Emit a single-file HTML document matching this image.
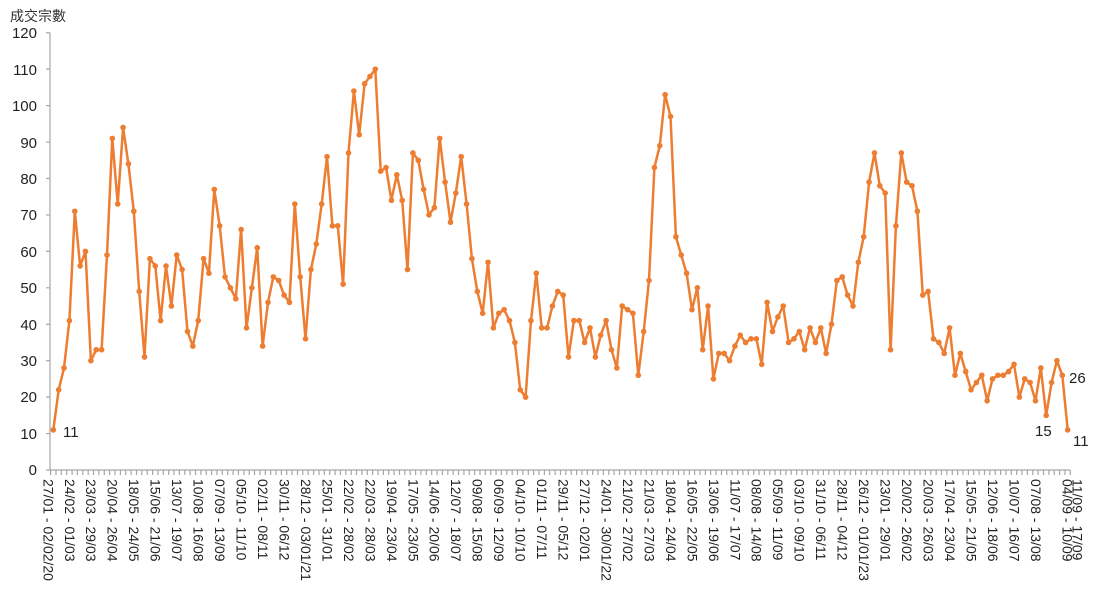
<!DOCTYPE html>
<html><head><meta charset="utf-8"><style>
html,body{margin:0;padding:0;background:#fff;}
svg{display:block;font-family:"Liberation Sans","Noto Sans CJK TC",sans-serif;}
.yl{font-size:15px;fill:#222;text-anchor:end;}
.xl{font-size:14px;fill:#222;}
.dl{font-size:15px;fill:#222;}
</style></head><body>
<svg id="c" width="1099" height="599" viewBox="0 0 1099 599">
<text x="10" y="21" style="font-size:14px;fill:#333">成交宗數</text>
<g id="axes" stroke="#a6a6a6" stroke-width="1.2" fill="none"></g>
<g id="yl">
<text class="yl" x="37" y="475">0</text>
<text class="yl" x="37" y="439">10</text>
<text class="yl" x="37" y="402">20</text>
<text class="yl" x="37" y="366">30</text>
<text class="yl" x="37" y="330">40</text>
<text class="yl" x="37" y="293">50</text>
<text class="yl" x="37" y="257">60</text>
<text class="yl" x="37" y="220">70</text>
<text class="yl" x="37" y="184">80</text>
<text class="yl" x="37" y="148">90</text>
<text class="yl" x="37" y="111">100</text>
<text class="yl" x="37" y="75">110</text>
<text class="yl" x="37" y="38">120</text>
</g>
<g id="xl">
<text class="xl" transform="translate(43.3,479) rotate(90)">27/01 - 02/02/20</text>
<text class="xl" transform="translate(64.8,479) rotate(90)">24/02 - 01/03</text>
<text class="xl" transform="translate(86.2,479) rotate(90)">23/03 - 29/03</text>
<text class="xl" transform="translate(107.7,479) rotate(90)">20/04 - 26/04</text>
<text class="xl" transform="translate(129.2,479) rotate(90)">18/05 - 24/05</text>
<text class="xl" transform="translate(150.6,479) rotate(90)">15/06 - 21/06</text>
<text class="xl" transform="translate(172.1,479) rotate(90)">13/07 - 19/07</text>
<text class="xl" transform="translate(193.6,479) rotate(90)">10/08 - 16/08</text>
<text class="xl" transform="translate(215.0,479) rotate(90)">07/09 - 13/09</text>
<text class="xl" transform="translate(236.5,479) rotate(90)">05/10 - 11/10</text>
<text class="xl" transform="translate(258.0,479) rotate(90)">02/11 - 08/11</text>
<text class="xl" transform="translate(279.4,479) rotate(90)">30/11 - 06/12</text>
<text class="xl" transform="translate(300.9,479) rotate(90)">28/12 - 03/01/21</text>
<text class="xl" transform="translate(322.4,479) rotate(90)">25/01 - 31/01</text>
<text class="xl" transform="translate(343.9,479) rotate(90)">22/02 - 28/02</text>
<text class="xl" transform="translate(365.3,479) rotate(90)">22/03 - 28/03</text>
<text class="xl" transform="translate(386.8,479) rotate(90)">19/04 - 23/04</text>
<text class="xl" transform="translate(408.3,479) rotate(90)">17/05 - 23/05</text>
<text class="xl" transform="translate(429.7,479) rotate(90)">14/06 - 20/06</text>
<text class="xl" transform="translate(451.2,479) rotate(90)">12/07 - 18/07</text>
<text class="xl" transform="translate(472.7,479) rotate(90)">09/08 - 15/08</text>
<text class="xl" transform="translate(494.1,479) rotate(90)">06/09 - 12/09</text>
<text class="xl" transform="translate(515.6,479) rotate(90)">04/10 - 10/10</text>
<text class="xl" transform="translate(537.1,479) rotate(90)">01/11 - 07/11</text>
<text class="xl" transform="translate(558.5,479) rotate(90)">29/11 - 05/12</text>
<text class="xl" transform="translate(580.0,479) rotate(90)">27/12 - 02/01</text>
<text class="xl" transform="translate(601.5,479) rotate(90)">24/01 - 30/01/22</text>
<text class="xl" transform="translate(622.9,479) rotate(90)">21/02 - 27/02</text>
<text class="xl" transform="translate(644.4,479) rotate(90)">21/03 - 27/03</text>
<text class="xl" transform="translate(665.9,479) rotate(90)">18/04 - 24/04</text>
<text class="xl" transform="translate(687.3,479) rotate(90)">16/05 - 22/05</text>
<text class="xl" transform="translate(708.8,479) rotate(90)">13/06 - 19/06</text>
<text class="xl" transform="translate(730.3,479) rotate(90)">11/07 - 17/07</text>
<text class="xl" transform="translate(751.7,479) rotate(90)">08/08 - 14/08</text>
<text class="xl" transform="translate(773.2,479) rotate(90)">05/09 - 11/09</text>
<text class="xl" transform="translate(794.7,479) rotate(90)">03/10 - 09/10</text>
<text class="xl" transform="translate(816.1,479) rotate(90)">31/10 - 06/11</text>
<text class="xl" transform="translate(837.6,479) rotate(90)">28/11 - 04/12</text>
<text class="xl" transform="translate(859.1,479) rotate(90)">26/12 - 01/01/23</text>
<text class="xl" transform="translate(880.6,479) rotate(90)">23/01 - 29/01</text>
<text class="xl" transform="translate(902.0,479) rotate(90)">20/02 - 26/02</text>
<text class="xl" transform="translate(923.5,479) rotate(90)">20/03 - 26/03</text>
<text class="xl" transform="translate(945.0,479) rotate(90)">17/04 - 23/04</text>
<text class="xl" transform="translate(966.4,479) rotate(90)">15/05 - 21/05</text>
<text class="xl" transform="translate(987.9,479) rotate(90)">12/06 - 18/06</text>
<text class="xl" transform="translate(1009.4,479) rotate(90)">10/07 - 16/07</text>
<text class="xl" transform="translate(1030.8,479) rotate(90)">07/08 - 13/08</text>
<text class="xl" transform="translate(1062.3,479) rotate(90)">04/09 - 10/09</text>
<text class="xl" transform="translate(1072.7,479) rotate(90)">11/09 - 17/09</text>
</g>
<g id="series"></g>
<text class="dl" x="63" y="437">11</text>
<text class="dl" x="1035" y="436">15</text>
<text class="dl" x="1069" y="383">26</text>
<text class="dl" x="1073" y="446">11</text>
</svg>
<script>
var d=[11,22,28,41,71,56,60,30,33,33,59,91,73,94,84,71,49,31,58,56,41,56,45,59,55,38,34,41,58,54,77,67,53,50,47,66,39,50,61,34,46,53,52,48,46,73,53,36,55,62,73,86,67,67,51,87,104,92,106,108,110,82,83,74,81,74,55,87,85,77,70,72,91,79,68,76,86,73,58,49,43,57,39,43,44,41,35,22,20,41,54,39,39,45,49,48,31,41,41,35,39,31,37,41,33,28,45,44,43,26,38,52,83,89,103,97,64,59,54,44,50,33,45,25,32,32,30,34,37,35,36,36,29,46,38,42,45,35,36,38,33,39,35,39,32,40,52,53,48,45,57,64,79,87,78,76,33,67,87,79,78,71,48,49,36,35,32,39,26,32,27,22,24,26,19,25,26,26,27,29,20,25,24,19,28,15,24,30,26,11];
var NS="http://www.w3.org/2000/svg";
function X(i){return 53.3+5.367*i;}function Y(v){return 470-3.644*v;}
var ax=document.getElementById('axes'),s='M50,32.7V470H1070';
for(var k=0;k<=12;k++){var y=Y(k*10);s+='M46,'+y+'H50';}
for(var i=0;i<=190;i++){var x=(50.6+5.367*i).toFixed(1);s+='M'+x+',470V475';}
var p=document.createElementNS(NS,'path');p.setAttribute('d',s);ax.appendChild(p);
var g=document.getElementById('series'),pts=[];
for(var i=0;i<d.length;i++)pts.push(X(i).toFixed(1)+','+Y(d[i]).toFixed(1));
var pl=document.createElementNS(NS,'polyline');pl.setAttribute('points',pts.join(' '));
pl.setAttribute('fill','none');pl.setAttribute('stroke','#ED7D31');pl.setAttribute('stroke-width','2.5');pl.setAttribute('stroke-linejoin','round');g.appendChild(pl);
for(var i=0;i<d.length;i++){var c=document.createElementNS(NS,'circle');c.setAttribute('cx',X(i));c.setAttribute('cy',Y(d[i]));c.setAttribute('r','2.8');c.setAttribute('fill','#ED7D31');g.appendChild(c);}
</script>
</body></html>
